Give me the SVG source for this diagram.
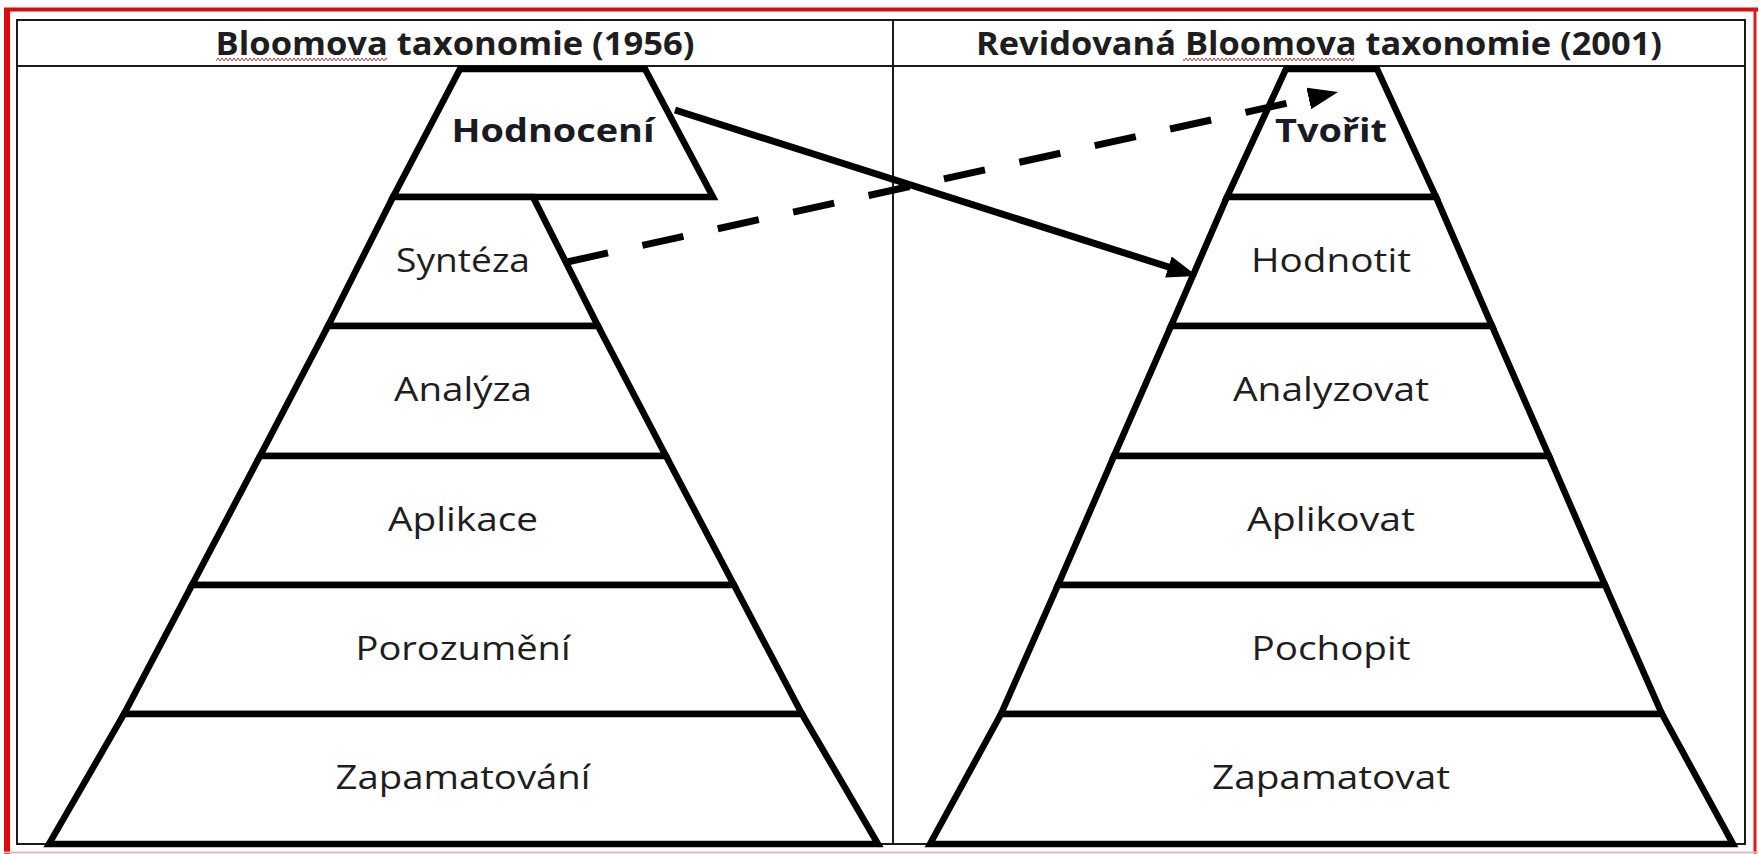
<svg xmlns="http://www.w3.org/2000/svg" width="1759" height="854" viewBox="0 0 1759 854">
<style>
.lvl{fill:#fff;stroke:#000;stroke-width:6.5;stroke-linejoin:miter}
.lbl{font-family:"Open Sans","Liberation Sans",sans-serif;font-size:32px;fill:#1e1e1e;text-anchor:middle}
.b{font-weight:bold;fill:#1a1a24}
.hdr{font-family:"Open Sans","Liberation Sans",sans-serif;font-size:32px;font-weight:bold;fill:#1e1e1e;text-anchor:middle}
.grid{fill:none;stroke:#1a1a1a;stroke-width:2}
.conn{fill:none;stroke:#000;stroke-width:7}
</style>
<defs>
<marker id="ah" markerUnits="userSpaceOnUse" markerWidth="32" markerHeight="24" refX="15" refY="11" orient="auto"><path d="M0,0 L30,11 L0,22 Z" fill="#000"/></marker>
<pattern id="sq" patternUnits="userSpaceOnUse" x="0" y="57" width="4" height="5"><path d="M0,4 L2,1 L4,4" fill="none" stroke="#c83c3c" stroke-width="1"/></pattern>
</defs>
<rect width="1759" height="854" fill="#fff"/>
<g id="frame">
<line x1="7" y1="8" x2="7" y2="854" stroke="#e00a0a" stroke-width="6"/>
<line x1="4" y1="9.5" x2="1758" y2="9.5" stroke="#e00a0a" stroke-width="4"/>
<line x1="1755" y1="8" x2="1755" y2="854" stroke="#e01a1a" stroke-width="3"/>
<line x1="4" y1="852.5" x2="1758" y2="852.5" stroke="#f2b4b4" stroke-width="2"/>
</g>
<g id="table">
<rect class="grid" x="17" y="20" width="1728" height="824"/>
<line class="grid" x1="17" y1="66" x2="1745" y2="66"/>
<line class="grid" x1="893" y1="20" x2="893" y2="844"/>
<text class="hdr" x="455" y="55" textLength="479" lengthAdjust="spacingAndGlyphs">Bloomova taxonomie (1956)</text>
<text class="hdr" x="1319" y="55" textLength="686" lengthAdjust="spacingAndGlyphs">Revidovaná Bloomova taxonomie (2001)</text>
<rect x="216" y="57" width="171" height="5" fill="url(#sq)"/>
<rect x="1183" y="57" width="171" height="5" fill="url(#sq)"/>
</g>
<g id="left-hodnoceni">
<polygon class="lvl" points="460,69 645,69 713,197 393,197"/>
<text class="lbl b" x="553" y="142" textLength="203" lengthAdjust="spacingAndGlyphs">Hodnocení</text>
</g>
<g id="left-synteza">
<polygon class="lvl" points="393,197 533,197 598,326 328,326"/>
<text class="lbl" x="463" y="272" textLength="134" lengthAdjust="spacingAndGlyphs">Syntéza</text>
</g>
<g id="left-analyza">
<polygon class="lvl" points="328,326 598,326 666,456 260,456"/>
<text class="lbl" x="463" y="401" textLength="138" lengthAdjust="spacingAndGlyphs">Analýza</text>
</g>
<g id="left-aplikace">
<polygon class="lvl" points="260,456 666,456 734,585 192,585"/>
<text class="lbl" x="463" y="531" textLength="150" lengthAdjust="spacingAndGlyphs">Aplikace</text>
</g>
<g id="left-porozumeni">
<polygon class="lvl" points="192,585 734,585 802,714 124,714"/>
<text class="lbl" x="463" y="660" textLength="215" lengthAdjust="spacingAndGlyphs">Porozumění</text>
</g>
<g id="left-zapamatovani">
<polygon class="lvl" points="124,714 802,714 878,844 49,844"/>
<text class="lbl" x="463" y="789" textLength="255" lengthAdjust="spacingAndGlyphs">Zapamatování</text>
</g>
<g id="right-tvorit">
<polygon class="lvl" points="1286,69 1377,69 1436,197 1227,197"/>
<text class="lbl b" x="1331" y="142" textLength="112" lengthAdjust="spacingAndGlyphs">Tvořit</text>
</g>
<g id="right-hodnotit">
<polygon class="lvl" points="1227,197 1436,197 1492,326 1171,326"/>
<text class="lbl" x="1331" y="272" textLength="160" lengthAdjust="spacingAndGlyphs">Hodnotit</text>
</g>
<g id="right-analyzovat">
<polygon class="lvl" points="1171,326 1492,326 1549,456 1114,456"/>
<text class="lbl" x="1331" y="401" textLength="196" lengthAdjust="spacingAndGlyphs">Analyzovat</text>
</g>
<g id="right-aplikovat">
<polygon class="lvl" points="1114,456 1549,456 1605,585 1058,585"/>
<text class="lbl" x="1331" y="531" textLength="168" lengthAdjust="spacingAndGlyphs">Aplikovat</text>
</g>
<g id="right-pochopit">
<polygon class="lvl" points="1058,585 1605,585 1662,714 1001,714"/>
<text class="lbl" x="1331" y="660" textLength="159" lengthAdjust="spacingAndGlyphs">Pochopit</text>
</g>
<g id="right-zapamatovat">
<polygon class="lvl" points="1001,714 1662,714 1733,844 930,844"/>
<text class="lbl" x="1331" y="789" textLength="238" lengthAdjust="spacingAndGlyphs">Zapamatovat</text>
</g>
<g id="connectors">
<line class="conn" x1="675" y1="110" x2="1182.7" y2="271.5" marker-end="url(#ah)"/>
<line class="conn" x1="567" y1="262" x2="1323.4" y2="95.2" stroke-dasharray="42 35.2" stroke-width="8" marker-end="url(#ah)"/>
</g>
</svg>
